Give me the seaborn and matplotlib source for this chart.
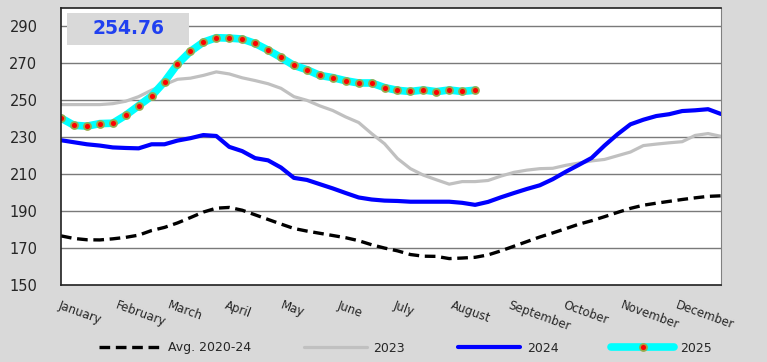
import numpy as np
import pandas as pd
import matplotlib.pyplot as plt
import matplotlib.patches as mpatches
import seaborn as sns

# -----------------------------
# Weekly values
# -----------------------------
avg_2020_24 = [176.6, 175.2, 174.5, 174.4, 175.0, 175.8, 177.0, 179.5, 181.2, 183.6,
               186.5, 189.5, 191.6, 192.0, 190.5, 188.0, 185.5, 183.0, 180.6, 179.2,
               178.0, 176.8, 175.6, 174.0, 171.8, 170.0, 168.5, 166.5, 165.6, 165.5,
               164.3, 164.6, 165.0, 166.3, 168.5, 171.0, 173.5, 176.0, 178.2, 180.5,
               182.9, 184.8, 187.0, 189.3, 191.5, 193.2, 194.3, 195.3, 196.3, 197.2,
               198.0, 198.3]
y2023 = [247.7, 247.7, 247.7, 247.7, 248.2, 249.5, 252.0, 255.5, 258.5, 261.4,
         262.0, 263.5, 265.4, 264.3, 262.2, 260.7, 259.0, 256.5, 252.0, 250.0,
         247.0, 244.5, 241.0, 238.0, 232.0, 226.5, 218.5, 213.0, 209.5, 207.0,
         204.6, 206.0, 206.0, 206.6, 209.0, 211.0, 212.2, 213.0, 213.2, 214.8,
         216.0, 217.2, 218.0, 220.0, 222.0, 225.5, 226.3, 227.0, 227.6, 231.0,
         232.0, 230.5]
y2024 = [228.4, 227.3, 226.2, 225.5, 224.5, 224.2, 224.0, 226.2, 226.2, 228.2,
         229.5, 231.2, 230.7, 224.8, 222.5, 218.7, 217.5, 213.6, 208.0, 206.9,
         204.6, 202.3, 199.8, 197.4, 196.3, 195.7, 195.5, 195.1, 195.1, 195.1,
         195.1, 194.5, 193.4, 195.0, 197.5, 199.8, 202.0, 204.0, 207.3, 211.3,
         215.0, 218.8, 225.5, 231.6, 237.0, 239.5, 241.5, 242.5, 244.2, 244.6,
         245.2, 242.6]
y2025 = [240.4, 236.5, 236.0, 237.4, 237.6, 241.9, 247.1, 252.3, 260.1, 269.6,
         276.5, 281.5, 283.9, 283.7, 283.2, 280.8, 277.2, 273.2, 268.9, 266.6,
         263.5, 262.3, 260.6, 259.4, 259.4, 256.9, 255.4, 254.8, 255.6, 254.7,
         255.6, 254.8, 255.5]
latest_value = "254.76"

months = ['January', 'February', 'March', 'April', 'May', 'June', 'July',
          'August', 'September', 'October', 'November', 'December']
month_start_day = [0, 31, 59, 90, 120, 151, 181, 212, 243, 273, 304, 334]

weeks = np.arange(len(y2023))
weeks_2025 = np.arange(len(y2025))

# -----------------------------
# Plot
# -----------------------------
sns.set_style("white")
plt.rcParams['font.family'] = ['DejaVu Sans']

bg = '#d9d9d9'
fig = plt.figure(figsize=(7.67, 3.62), dpi=100, facecolor=bg)
ax = fig.add_axes([61 / 767, 77 / 362, 660 / 767, 277 / 362])
ax.set_facecolor('white')

for yv in range(170, 300, 20):
    ax.axhline(yv, color='#7a7a7a', lw=1.0, zorder=0)

sns.lineplot(x=weeks, y=avg_2020_24, ax=ax, color='black', lw=2.4,
             linestyle=(0, (3.2, 1.7)), label='Avg. 2020-24')
sns.lineplot(x=weeks, y=y2023, ax=ax, color='#c0c0c0', lw=2.3, label='2023')
sns.lineplot(x=weeks, y=y2024, ax=ax, color='#0000ff', lw=3.0, label='2024')
sns.lineplot(x=weeks_2025, y=y2025, ax=ax, color='#00ffff', lw=5.5,
             marker='o', markersize=5, markerfacecolor='#ff0000',
             markeredgecolor='#9aa84a', markeredgewidth=1.3, label='2025')

ax.set_xlim(0, 51)
ax.set_ylim(150, 300)
ax.set_yticks(range(150, 300, 20))
ax.tick_params(axis='y', length=0, labelsize=10.5, pad=17)
ax.set_xticks([d / 7 for d in month_start_day])
ax.set_xticklabels(months, rotation=-20, ha='left', va='top',
                   rotation_mode='anchor', fontsize=8.5)
ax.tick_params(axis='x', length=4, width=1, color='#404040', direction='out', pad=6)
ax.set_xlabel('')
ax.set_ylabel('')
for side in ['left', 'bottom', 'top']:
    ax.spines[side].set_color('#202020')
    ax.spines[side].set_linewidth(1.2)
ax.spines['right'].set_color('#808080')

# value box
ax.add_patch(mpatches.Rectangle((6 / 660, 240 / 277), 122 / 660, 32 / 277,
                                transform=ax.transAxes, facecolor=bg,
                                edgecolor='none', zorder=5))
ax.text(67 / 660, 256 / 277, latest_value, transform=ax.transAxes,
        ha='center', va='center', fontsize=13.5, fontweight='bold',
        color='#2040f0', zorder=6)

handles, labels = ax.get_legend_handles_labels()
ax.get_legend().remove()
fig.legend(handles, labels, loc='center', bbox_to_anchor=(0.529, 1 - 348 / 362),
           ncol=4, frameon=False, fontsize=9, handlelength=5.0,
           columnspacing=4.25, handletextpad=0.5)

fig.savefig('out.png', dpi=100, facecolor=bg)
